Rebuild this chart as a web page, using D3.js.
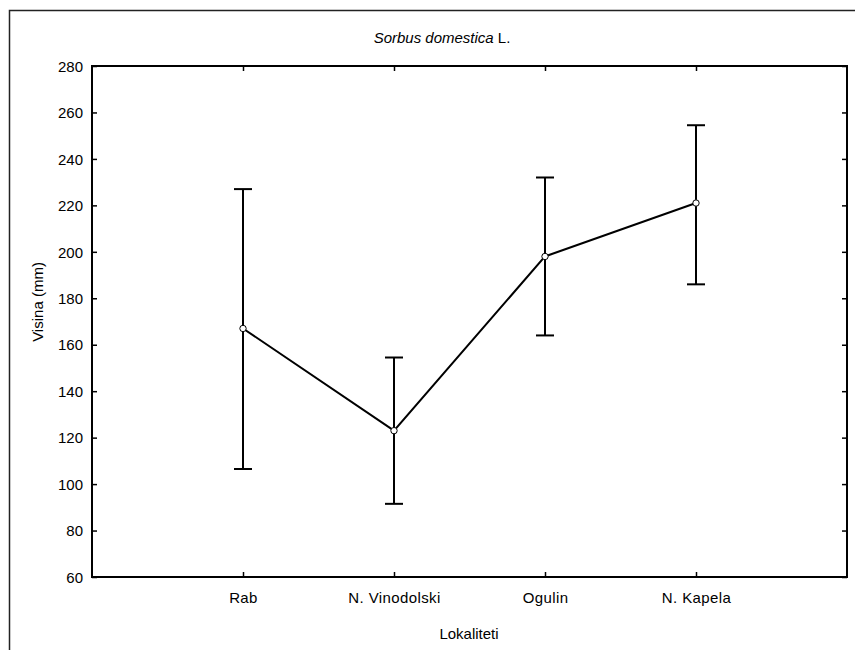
<!DOCTYPE html>
<html><head><meta charset="utf-8">
<script src="https://cdn.jsdelivr.net/npm/d3@7"></script>
<style>body{margin:0;background:#fff}svg{display:block}text{font-family:"Liberation Sans",Arial,sans-serif;fill:#000}</style>
</head><body>
<svg id="c" width="855" height="650"></svg>
<script>
const categories = ["Rab", "N. Vinodolski", "Ogulin", "N. Kapela"];
const means = [167, 123, 198, 221];
const upper = [227, 154.5, 232, 254.5];
const lower = [106.5, 91.5, 164, 186];
const yTicks = [60, 80, 100, 120, 140, 160, 180, 200, 220, 240, 260, 280];

const svg = d3.select("#c");
const L = 92, R = 847, T = 66, B = 577;
const x = d3.scalePoint().domain(categories).range([L, R]).padding(1);
const y = d3.scaleLinear().domain([60, 280]).range([B, T]);

// outer frame
svg.append("path").attr("d", "M9.5,650 L9.5,10.5 L855,10.5").attr("fill", "none").attr("stroke", "#222").attr("stroke-width", 1.5);

// plot box
svg.append("rect").attr("x", L).attr("y", T).attr("width", R - L).attr("height", B - T)
  .attr("fill", "none").attr("stroke", "#000").attr("stroke-width", 2);

// axes with inward ticks
const gl = svg.append("g").attr("transform", `translate(${L},0)`)
  .call(d3.axisLeft(y).tickValues(yTicks).tickSizeInner(-5).tickSizeOuter(0).tickPadding(9));
const gr = svg.append("g").attr("transform", `translate(${R},0)`)
  .call(d3.axisRight(y).tickValues(yTicks).tickSizeInner(-5).tickSizeOuter(0).tickFormat(""));
const gb = svg.append("g").attr("transform", `translate(0,${B})`)
  .call(d3.axisBottom(x).tickSizeInner(-5).tickSizeOuter(0).tickPadding(15));
const gt = svg.append("g").attr("transform", `translate(0,${T})`)
  .call(d3.axisTop(x).tickSizeInner(-5).tickSizeOuter(0).tickFormat(""));
[gl, gr, gb, gt].forEach(g => {
  g.select(".domain").remove();
  g.selectAll(".tick line").attr("stroke", "#000").attr("stroke-width", 1.5);
  g.selectAll("text").style("font-size", "15px").attr("fill", "#000");
});
gl.selectAll("text").attr("dy", "0.35em");
gb.selectAll("text").style("letter-spacing", "0.4px");

// error bars
const cw = 9;
const eb = svg.append("g");
categories.forEach((c, i) => {
  const cx = x(c);
  eb.append("line").attr("x1", cx).attr("x2", cx).attr("y1", y(upper[i])).attr("y2", y(lower[i]))
    .attr("stroke", "#000").attr("stroke-width", 2);
  [upper[i], lower[i]].forEach(v => {
    eb.append("line").attr("x1", cx - cw).attr("x2", cx + cw).attr("y1", y(v)).attr("y2", y(v))
      .attr("stroke", "#000").attr("stroke-width", 2);
  });
});

// mean line
const line = d3.line().x((d, i) => x(categories[i])).y(d => y(d));
svg.append("path").datum(means).attr("d", line).attr("fill", "none").attr("stroke", "#000").attr("stroke-width", 2);

svg.append("g").selectAll("circle").data(means).join("circle")
  .attr("cx", (d, i) => x(categories[i])).attr("cy", d => y(d)).attr("r", 3.2)
  .attr("fill", "#fff").attr("stroke", "#000").attr("stroke-width", 1);

// title
const t = svg.append("text").attr("x", 442).attr("y", 43).attr("text-anchor", "middle").style("font-size", "15px");
t.append("tspan").style("font-style", "italic").text("Sorbus domestica");
t.append("tspan").text(" L.");

// axis titles
svg.append("text").attr("x", 469).attr("y", 639).attr("text-anchor", "middle").style("font-size", "15px").text("Lokaliteti");
svg.append("text").attr("transform", "translate(43,302) rotate(-90)").attr("text-anchor", "middle").style("font-size", "15px").text("Visina (mm)");
</script>
</body></html>
